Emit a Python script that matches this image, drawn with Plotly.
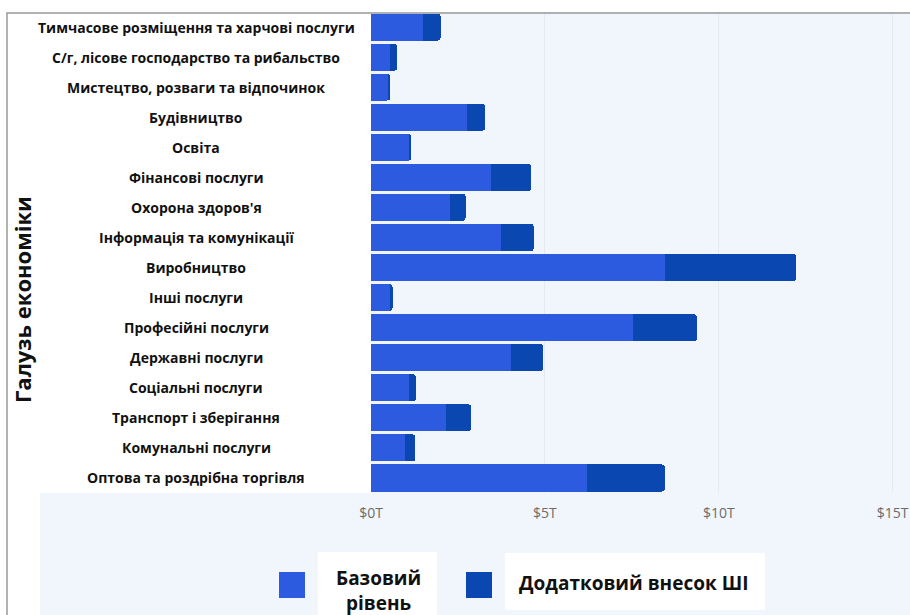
import plotly.graph_objects as go

categories = [
    "Тимчасове розміщення та харчові послуги",
    "С/г, лісове господарство та рибальство",
    "Мистецтво, розваги та відпочинок",
    "Будівництво",
    "Освіта",
    "Фінансові послуги",
    "Охорона здоров'я",
    "Інформація та комунікації",
    "Виробництво",
    "Інші послуги",
    "Професійні послуги",
    "Державні послуги",
    "Соціальні послуги",
    "Транспорт і зберігання",
    "Комунальні послуги",
    "Оптова та роздрібна торгівля",
]
base_values = [1.50, 0.56, 0.50, 2.77, 1.10, 3.44, 2.28, 3.73, 8.45, 0.55, 7.52, 4.02, 1.08, 2.15, 0.97, 6.20]
ai_values = [0.50, 0.19, 0.05, 0.51, 0.06, 1.16, 0.44, 0.95, 3.78, 0.07, 1.85, 0.93, 0.21, 0.73, 0.30, 2.25]
series_names = ["Базовий<br>рівень", "Додатковий внесок ШІ"]
series_colors = ["#2d5be0", "#0a47b0"]
tick_values = [0, 5, 10, 15]
tick_labels = ["$0T", "$5T", "$10T", "$15T"]
y_title = "Галузь економіки"

W, H = 910, 615
ML, MR, MT, MB = 371, 0, 12, 122
PW, PH = W - ML - MR, H - MT - MB


def px(x):
    return (x - ML) / PW


def py(y):
    return (H - MB - y) / PH


fig = go.Figure()
for name, vals, col in zip(series_names, [base_values, ai_values], series_colors):
    fig.add_trace(go.Bar(
        y=categories, x=vals, orientation="h", name=name.replace("<br>", " "),
        marker=dict(color=col, line=dict(width=0)),
        showlegend=False,
    ))

annotations = []
for c in categories:
    annotations.append(dict(
        x=0, xref="paper", y=c, yref="y", xshift=196 - ML, xanchor="center",
        text=f"<b>{c}</b>", showarrow=False,
        font=dict(family="Open Sans", size=14, color="#111111"),
    ))
annotations.append(dict(
    x=px(22), xref="paper", y=py(300), yref="paper", textangle=-90,
    text=f"<b>{y_title}</b>", showarrow=False, xanchor="center", yanchor="middle",
    font=dict(family="Open Sans", size=22, color="#111111"),
))

shapes = [
    dict(type="rect", xref="paper", yref="paper", x0=px(40), x1=px(W + 5), y0=py(493), y1=py(H + 5),
         fillcolor="#f1f6fd", line=dict(width=0), layer="below"),
    dict(type="rect", xref="paper", yref="paper", x0=px(7), x1=px(W + 20), y0=py(13), y1=py(H + 20),
         fillcolor="rgba(0,0,0,0)", line=dict(color="#9a9a9a", width=1.5), layer="above"),
]

# manual legend
legend_boxes = [(318, 437, 552, 618), (505, 765, 553, 610)]
legend_squares = [(279, 305), (466, 492)]
legend_text_x = [(378, "center"), (517, "left")]
legend_text_y = [590, 583]
for i, name in enumerate(series_names):
    bx0, bx1, by0, by1 = legend_boxes[i]
    shapes.append(dict(type="rect", xref="paper", yref="paper", x0=px(bx0), x1=px(bx1),
                       y0=py(by0), y1=py(by1), fillcolor="white", line=dict(width=0)))
    sx0, sx1 = legend_squares[i]
    shapes.append(dict(type="rect", xref="paper", yref="paper", x0=px(sx0), x1=px(sx1),
                       y0=py(572), y1=py(598), fillcolor=series_colors[i], line=dict(width=0)))
    tx, anc = legend_text_x[i]
    annotations.append(dict(
        x=px(tx), xref="paper", y=py(legend_text_y[i]), yref="paper", xanchor=anc, yanchor="middle",
        text=f"<b>{name}</b>", showarrow=False, align="center",
        font=dict(family="Open Sans", size=19, color="#111111"),
    ))

fig.update_layout(
    width=W, height=H,
    margin=dict(l=ML, r=MR, t=MT, b=MB, pad=0),
    barmode="stack", bargap=0.1, barcornerradius=3,
    paper_bgcolor="white", plot_bgcolor="#f1f6fd",
    showlegend=False,
    shapes=shapes, annotations=annotations,
    xaxis=dict(
        range=[0, 15.5], tickvals=tick_values, ticktext=tick_labels,
        showgrid=True, gridcolor="#e3eaf3", gridwidth=1, zeroline=False,
        showline=False, ticks="", ticklabelstandoff=10, ticklabeloverflow="allow",
        tickfont=dict(family="Open Sans", size=14, color="#6b6b6b"),
    ),
    yaxis=dict(
        autorange="reversed", showticklabels=False, showgrid=False,
        zeroline=False, showline=False, ticks="",
    ),
)

fig.write_html("out.html")
